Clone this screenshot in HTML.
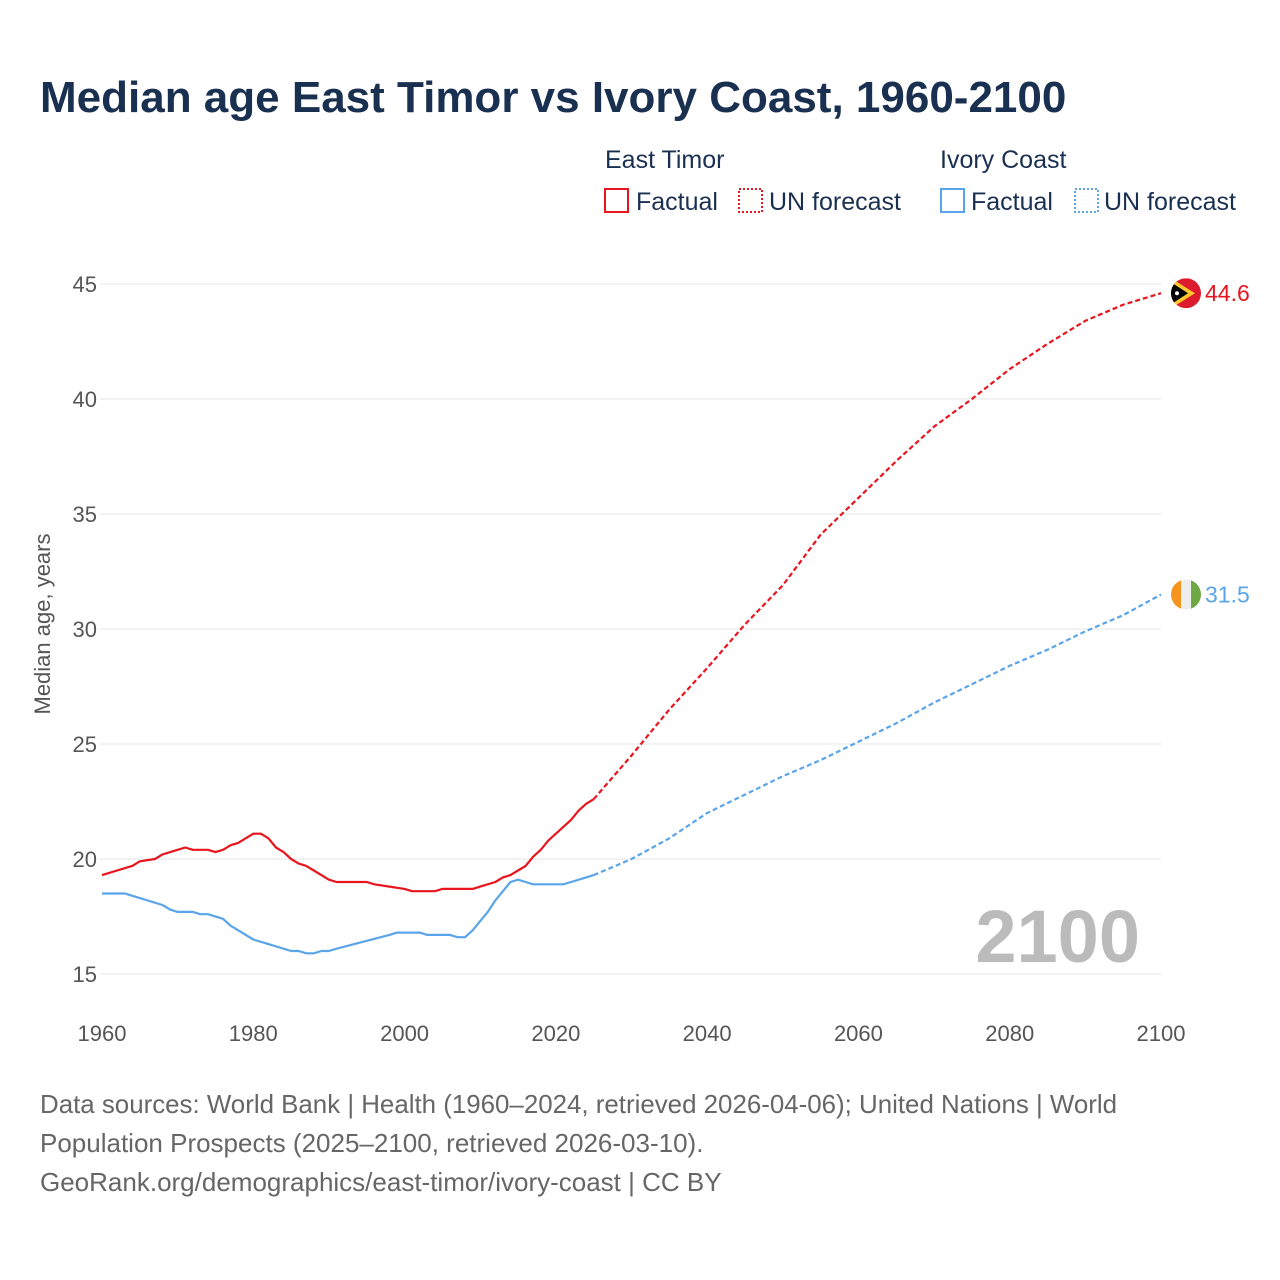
<!DOCTYPE html>
<html><head><meta charset="utf-8"><style>
body{margin:0;background:#fff;font-family:"Liberation Sans",sans-serif;}
#wrap{position:relative;width:1280px;height:1280px;overflow:hidden;}
</style></head><body>
<div id="wrap">
<svg id="chart" width="1280" height="1280" xmlns="http://www.w3.org/2000/svg">
<text x="40" y="112" font-size="44" font-weight="bold" fill="#1a3050">Median age East Timor vs Ivory Coast, 1960-2100</text>
<g font-size="25" fill="#333">
<text x="605" y="168" fill="#1a3050">East Timor</text>
<text x="940" y="168" fill="#1a3050">Ivory Coast</text>
<g><rect x="605" y="189" width="23" height="23" fill="none" stroke="#e8141e" stroke-width="2"/><text x="636" y="210" fill="#1a3050">Factual</text></g>
<g><rect x="739" y="189" width="23" height="23" fill="none" stroke="#e8141e" stroke-width="2" stroke-dasharray="2,2"/><text x="769" y="210" fill="#1a3050">UN forecast</text></g>
<g><rect x="941" y="189" width="23" height="23" fill="none" stroke="#5aa5ea" stroke-width="2"/><text x="971" y="210" fill="#1a3050">Factual</text></g>
<g><rect x="1075" y="189" width="23" height="23" fill="none" stroke="#5aa5ea" stroke-width="2" stroke-dasharray="2,2"/><text x="1104" y="210" fill="#1a3050">UN forecast</text></g>
</g>
<g id="grid"></g>
<g id="yticks" font-size="22" fill="#555"></g>
<g id="xticks" font-size="22" fill="#555"></g>
<text transform="translate(50,624) rotate(-90)" text-anchor="middle" font-size="22" fill="#555">Median age, years</text>
<text x="1140" y="962" text-anchor="end" font-size="74" font-weight="bold" fill="#bbb">2100</text>
<g id="series"></g>
<g font-size="26" fill="#666">
<text x="40" y="1113" textLength="1077" lengthAdjust="spacingAndGlyphs">Data sources: World Bank | Health (1960–2024, retrieved 2026-04-06); United Nations | World</text>
<text x="40" y="1152">Population Prospects (2025–2100, retrieved 2026-03-10).</text>
<text x="40" y="1191">GeoRank.org/demographics/east-timor/ivory-coast | CC BY</text>
</g>
</svg>
</div>
<script>
const yTicks=[15,20,25,30,35,40,45];
const xTicks=[1960,1980,2000,2020,2040,2060,2080,2100];
const tlYears=[1960,1962,1964,1965,1967,1968,1970,1971,1972,1974,1975,1976,1977,1978,1980,1981,1982,1983,1984,1985,1986,1987,1988,1989,1990,1991,1995,1996,1998,2000,2001,2004,2005,2009,2010,2012,2013,2014,2015,2016,2017,2018,2019,2020,2021,2022,2023,2024,2025];
const tlValues=[19.3,19.5,19.7,19.9,20.0,20.2,20.4,20.5,20.4,20.4,20.3,20.4,20.6,20.7,21.1,21.1,20.9,20.5,20.3,20.0,19.8,19.7,19.5,19.3,19.1,19.0,19.0,18.9,18.8,18.7,18.6,18.6,18.7,18.7,18.8,19.0,19.2,19.3,19.5,19.7,20.1,20.4,20.8,21.1,21.4,21.7,22.1,22.4,22.6];
const tlFcYears=[2025,2030,2035,2040,2045,2050,2055,2060,2065,2070,2075,2080,2085,2090,2095,2100];
const tlFcValues=[22.6,24.5,26.5,28.3,30.2,31.9,34.1,35.7,37.3,38.8,40.0,41.3,42.4,43.4,44.1,44.6];
const ciYears=[1960,1963,1965,1968,1969,1970,1972,1973,1974,1976,1977,1980,1982,1985,1986,1987,1988,1989,1990,1991,1998,1999,2002,2003,2006,2007,2008,2009,2010,2011,2012,2013,2014,2015,2016,2017,2021,2022,2024,2025];
const ciValues=[18.5,18.5,18.3,18.0,17.8,17.7,17.7,17.6,17.6,17.4,17.1,16.5,16.3,16.0,16.0,15.9,15.9,16.0,16.0,16.1,16.7,16.8,16.8,16.7,16.7,16.6,16.6,16.9,17.3,17.7,18.2,18.6,19.0,19.1,19.0,18.9,18.9,19.0,19.2,19.3];
const ciFcYears=[2025,2030,2035,2040,2045,2050,2055,2060,2065,2070,2075,2080,2085,2090,2095,2100];
const ciFcValues=[19.3,20.0,20.9,22.0,22.8,23.6,24.3,25.1,25.9,26.8,27.6,28.4,29.1,29.9,30.6,31.5];
const NS="http://www.w3.org/2000/svg";
const X=y=>102+(y-1960)*(1059/140);
const Y=v=>974-(v-15)*23;
function mk(tag,attrs,parent){const e=document.createElementNS(NS,tag);for(const k in attrs)e.setAttribute(k,attrs[k]);parent.appendChild(e);return e;}
const grid=document.getElementById('grid'),yt=document.getElementById('yticks'),xt=document.getElementById('xticks'),ser=document.getElementById('series');
yTicks.forEach(v=>{
 const l=mk('line',{x1:100,x2:1161,y1:Y(v),y2:Y(v),stroke:'#e6e6e6','stroke-width':1},grid);
 
 
 const t=mk('text',{x:97,y:Y(v)+8,'text-anchor':'end'},yt);t.textContent=v;
 
 
});
xTicks.forEach(v=>{
 const t=mk('text',{x:X(v),y:1041,'text-anchor':'middle'},xt);t.textContent=v;
 
 
});
function line(xs,vs,color,dash,name){
 const p=mk('polyline',{points:xs.map((x,i)=>X(x)+','+Y(vs[i])).join(' '),fill:'none',stroke:color,'stroke-width':2.2,'stroke-linejoin':'round'},ser);
 if(dash)p.setAttribute('stroke-dasharray',dash);
 
 
}
line(ciYears,ciValues,'#5aa5ea',null,'ivory-coast-factual-line');
line(ciFcYears,ciFcValues,'#5aa5ea','5,3','ivory-coast-forecast-line');
line(tlYears,tlValues,'#e8141e',null,'east-timor-factual-line');
line(tlFcYears,tlFcValues,'#e8141e','5,3','east-timor-forecast-line');
const tlEnd=tlFcValues[tlFcValues.length-1],ciEnd=ciFcValues[ciFcValues.length-1];
const fx=1186;
let g=mk('g',{},ser);


mk('clipPath',{id:'c1'},g).appendChild(document.createElementNS(NS,'circle')).setAttribute('r','15');
document.querySelector('#c1 circle').setAttribute('cx',fx);document.querySelector('#c1 circle').setAttribute('cy',Y(tlEnd));
let gg=mk('g',{'clip-path':'url(#c1)'},g);
mk('rect',{x:fx-15,y:Y(tlEnd)-15,width:30,height:30,fill:'#dc1c2e'},gg);
mk('polygon',{points:`${fx-15},${Y(tlEnd)-15} ${fx+9},${Y(tlEnd)} ${fx-15},${Y(tlEnd)+15}`,fill:'#ffc72c'},gg);
mk('polygon',{points:`${fx-15},${Y(tlEnd)-11} ${fx+2},${Y(tlEnd)} ${fx-15},${Y(tlEnd)+11}`,fill:'#000'},gg);
mk('circle',{cx:fx-9,cy:Y(tlEnd),r:2,fill:'#fff'},gg);
let lbl=mk('text',{x:1205,y:Y(tlEnd)+8,'font-size':23,fill:'#e8141e'},ser);lbl.textContent=tlEnd.toFixed(1);


g=mk('g',{},ser);


const cy=Y(ciEnd);
mk('clipPath',{id:'c2'},g).appendChild(document.createElementNS(NS,'circle')).setAttribute('r','15');
document.querySelector('#c2 circle').setAttribute('cx',fx);document.querySelector('#c2 circle').setAttribute('cy',cy);
gg=mk('g',{'clip-path':'url(#c2)'},g);
mk('rect',{x:fx-15,y:cy-15,width:10,height:30,fill:'#f7941d'},gg);
mk('rect',{x:fx-5,y:cy-15,width:10,height:30,fill:'#eee'},gg);
mk('rect',{x:fx+5,y:cy-15,width:10,height:30,fill:'#6ea844'},gg);
lbl=mk('text',{x:1205,y:cy+8,'font-size':23,fill:'#5aa5ea'},ser);lbl.textContent=ciEnd.toFixed(1);


</script>
</body></html>
